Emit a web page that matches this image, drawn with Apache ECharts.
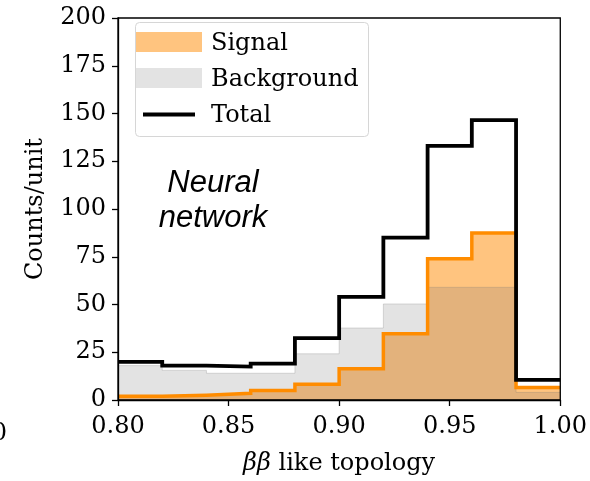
<!DOCTYPE html>
<html>
<head>
<meta charset="utf-8">
<script src="https://cdn.jsdelivr.net/npm/echarts@6/dist/echarts.min.js"></script>
<style>
  html, body { margin: 0; padding: 0; background: #fff; }
  #chart { width: 590px; height: 481px; }
</style>
</head>
<body>
<div id="chart"></div>
<script>
// Bin edges of the classifier output histogram (width 0.02)
const binEdges = [0.80, 0.82, 0.84, 0.86, 0.88, 0.90, 0.92, 0.94, 0.96, 0.98, 1.00];
// Counts per unit in each bin
const signalCounts     = [2.0, 2.5, 3.5, 5.0, 8.2, 16.3, 34.7, 74.0, 87.5, 6.5];
const backgroundCounts = [18.0, 15.5, 14.0, 14.0, 24.2, 37.7, 50.3, 59.0, 59.0, 4.0];
const totalCounts      = [20.0, 18.0, 17.5, 19.0, 32.4, 54.0, 85.0, 133.0, 146.5, 10.5];

const xTicks = { min: 0.80, max: 1.00, step: 0.05 };
const yTicks = { min: 0, max: 200, step: 25 };

const legendLabels = ['Signal', 'Background', 'Total'];
const xTitle = 'like topology';
const yTitle = 'Counts/unit';
const annotation = ['Neural', 'network'];

const SERIF = 'DejaVu Serif';
const FS = 24;

// Turn per-bin values into step-line points (last value repeated at the right edge)
function stepPoints(values) {
  const pts = values.map((v, i) => [binEdges[i], v]);
  pts.push([binEdges[binEdges.length - 1], values[values.length - 1]]);
  return pts;
}
const overlapCounts = signalCounts.map((s, i) => Math.min(s, backgroundCounts[i]));

function areaSeries(name, values, color, z) {
  return {
    name, type: 'line', step: 'end', data: stepPoints(values),
    symbol: 'none', silent: true, z,
    lineStyle: { width: 0, opacity: 0 },
    itemStyle: { color },
    areaStyle: { color, opacity: 1 }
  };
}
function lineSeries(name, values, color, width, z) {
  return {
    name, type: 'line', step: 'end', data: stepPoints(values),
    symbol: 'none', silent: true, z,
    lineStyle: { width, color, join: 'miter', cap: 'butt' },
    itemStyle: { color }
  };
}

const chart = echarts.init(document.getElementById('chart'), null, { renderer: 'canvas' });

chart.setOption({
  animation: false,
  backgroundColor: '#ffffff',
  grid: {
    left: 118, right: 27, top: 18, bottom: 75,
    show: true, borderColor: '#000', borderWidth: 1.3, backgroundColor: 'transparent', z: 10
  },
  xAxis: {
    type: 'value', min: xTicks.min, max: xTicks.max, interval: xTicks.step,
    name: '{i|ββ} ' + xTitle, nameLocation: 'middle', nameGap: 52,
    nameTextStyle: {
      fontFamily: SERIF, fontSize: FS, color: '#000',
      rich: { i: { fontFamily: SERIF, fontStyle: 'italic', fontSize: FS, color: '#000' } }
    },
    splitLine: { show: false },
    axisLine: { show: true, onZero: false, lineStyle: { color: '#000', width: 1.3 } },
    axisTick: { show: true, length: 6, lineStyle: { color: '#000', width: 1.3 } },
    axisLabel: {
      fontFamily: SERIF, fontSize: FS, color: '#000', margin: 15,
      formatter: v => v.toFixed(2)
    },
    z: 11
  },
  yAxis: {
    type: 'value', min: yTicks.min, max: yTicks.max, interval: yTicks.step,
    name: yTitle, nameLocation: 'middle', nameGap: 70, nameRotate: 90,
    nameTextStyle: { fontFamily: SERIF, fontSize: FS, color: '#000' },
    splitLine: { show: false },
    axisLine: { show: true, lineStyle: { color: '#000', width: 1.3 } },
    axisTick: { show: true, length: 6, lineStyle: { color: '#000', width: 1.3 } },
    axisLabel: { fontFamily: SERIF, fontSize: FS, color: '#000', margin: 12 },
    z: 11
  },
  series: [
    areaSeries(legendLabels[1], backgroundCounts, '#e3e3e3', 1),
    areaSeries(legendLabels[0], signalCounts, '#ffc47f', 2),
    areaSeries('overlap', overlapCounts, '#e3b27c', 3),
    lineSeries('background edge', backgroundCounts, 'rgba(120,120,120,0.25)', 1, 4),
    lineSeries('signal edge', signalCounts, '#ff8c00', 3.5, 5),
    lineSeries(legendLabels[2], totalCounts, '#000000', 3.8, 6)
  ],
  graphic: [
    // legend frame
    {
      type: 'rect', left: 135, top: 22, z: 50,
      shape: { width: 233, height: 114, r: 4 },
      style: { fill: 'rgba(255,255,255,0.85)', stroke: '#d6d6d6', lineWidth: 1 }
    },
    { type: 'rect', left: 136, top: 32, z: 51, shape: { width: 66, height: 20 }, style: { fill: '#ffc47f' } },
    { type: 'rect', left: 136, top: 68, z: 51, shape: { width: 66, height: 20 }, style: { fill: '#e3e3e3' } },
    { type: 'line', z: 51, shape: { x1: 143, y1: 114.5, x2: 195, y2: 114.5 }, style: { stroke: '#000', lineWidth: 3.8 } },
    { type: 'text', left: 211, top: 32, z: 52, style: { text: legendLabels[0], font: FS + 'px "DejaVu Serif"', fill: '#000' } },
    { type: 'text', left: 211, top: 68, z: 52, style: { text: legendLabels[1], font: FS + 'px "DejaVu Serif"', fill: '#000' } },
    { type: 'text', left: 211, top: 104, z: 52, style: { text: legendLabels[2], font: FS + 'px "DejaVu Serif"', fill: '#000' } },
    // in-plot annotation
    {
      type: 'text', z: 52, x: 213, y: 201,
      style: {
        text: annotation.join('\n'), font: 'italic 31px "Liberation Sans"', fill: '#000',
        align: 'center', verticalAlign: 'middle', lineHeight: 35
      }
    },
    // clipped label of the neighbouring panel's axis
    {
      type: 'text', z: 52, x: 7, y: 434,
      style: { text: '1.00', font: FS + 'px "DejaVu Serif"', fill: '#000', align: 'right', verticalAlign: 'middle' }
    }
  ]
});
</script>
</body>
</html>
